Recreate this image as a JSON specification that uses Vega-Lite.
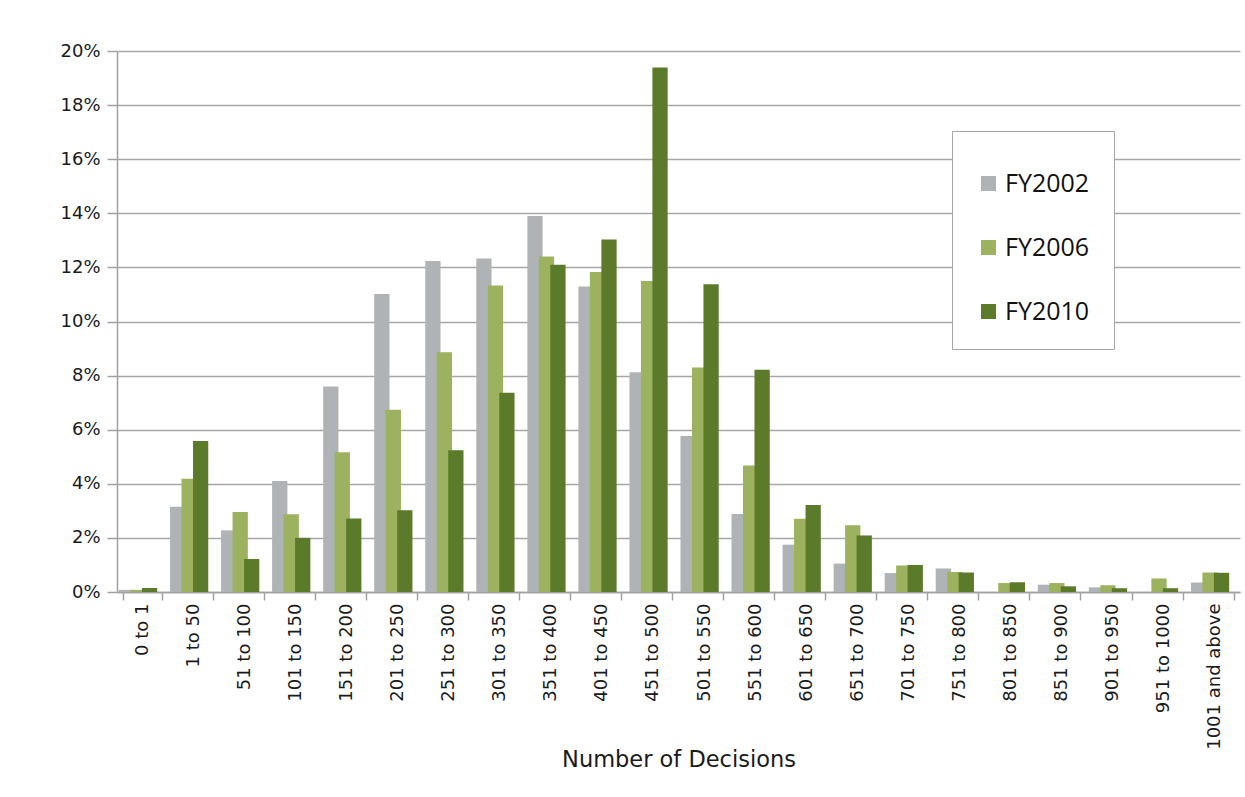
{
  "$schema": "https://vega.github.io/schema/vega-lite/v6.json",
  "width": 1123,
  "height": 541,
  "autosize": "none",
  "padding": {"left": 117, "top": 51, "right": 5, "bottom": 205},
  "background": "white",
  "config": {"view": {"stroke": null}, "font": "DejaVu Sans"},
  "data": {"values": [
    {"bin": "0 to 1", "series": "FY2002", "pct": 0.08},
    {"bin": "0 to 1", "series": "FY2006", "pct": 0.08},
    {"bin": "0 to 1", "series": "FY2010", "pct": 0.15},
    {"bin": "1 to 50", "series": "FY2002", "pct": 3.15},
    {"bin": "1 to 50", "series": "FY2006", "pct": 4.19},
    {"bin": "1 to 50", "series": "FY2010", "pct": 5.58},
    {"bin": "51 to 100", "series": "FY2002", "pct": 2.28},
    {"bin": "51 to 100", "series": "FY2006", "pct": 2.96},
    {"bin": "51 to 100", "series": "FY2010", "pct": 1.22},
    {"bin": "101 to 150", "series": "FY2002", "pct": 4.1},
    {"bin": "101 to 150", "series": "FY2006", "pct": 2.87},
    {"bin": "101 to 150", "series": "FY2010", "pct": 2.0},
    {"bin": "151 to 200", "series": "FY2002", "pct": 7.6},
    {"bin": "151 to 200", "series": "FY2006", "pct": 5.17},
    {"bin": "151 to 200", "series": "FY2010", "pct": 2.72},
    {"bin": "201 to 250", "series": "FY2002", "pct": 11.02},
    {"bin": "201 to 250", "series": "FY2006", "pct": 6.74},
    {"bin": "201 to 250", "series": "FY2010", "pct": 3.02},
    {"bin": "251 to 300", "series": "FY2002", "pct": 12.24},
    {"bin": "251 to 300", "series": "FY2006", "pct": 8.86},
    {"bin": "251 to 300", "series": "FY2010", "pct": 5.24},
    {"bin": "301 to 350", "series": "FY2002", "pct": 12.33},
    {"bin": "301 to 350", "series": "FY2006", "pct": 11.33},
    {"bin": "301 to 350", "series": "FY2010", "pct": 7.37},
    {"bin": "351 to 400", "series": "FY2002", "pct": 13.9},
    {"bin": "351 to 400", "series": "FY2006", "pct": 12.4},
    {"bin": "351 to 400", "series": "FY2010", "pct": 12.1},
    {"bin": "401 to 450", "series": "FY2002", "pct": 11.29},
    {"bin": "401 to 450", "series": "FY2006", "pct": 11.83},
    {"bin": "401 to 450", "series": "FY2010", "pct": 13.03},
    {"bin": "451 to 500", "series": "FY2002", "pct": 8.12},
    {"bin": "451 to 500", "series": "FY2006", "pct": 11.5},
    {"bin": "451 to 500", "series": "FY2010", "pct": 19.39},
    {"bin": "501 to 550", "series": "FY2002", "pct": 5.77},
    {"bin": "501 to 550", "series": "FY2006", "pct": 8.3},
    {"bin": "501 to 550", "series": "FY2010", "pct": 11.38},
    {"bin": "551 to 600", "series": "FY2002", "pct": 2.88},
    {"bin": "551 to 600", "series": "FY2006", "pct": 4.68},
    {"bin": "551 to 600", "series": "FY2010", "pct": 8.22},
    {"bin": "601 to 650", "series": "FY2002", "pct": 1.75},
    {"bin": "601 to 650", "series": "FY2006", "pct": 2.71},
    {"bin": "601 to 650", "series": "FY2010", "pct": 3.22},
    {"bin": "651 to 700", "series": "FY2002", "pct": 1.05},
    {"bin": "651 to 700", "series": "FY2006", "pct": 2.47},
    {"bin": "651 to 700", "series": "FY2010", "pct": 2.09},
    {"bin": "701 to 750", "series": "FY2002", "pct": 0.7},
    {"bin": "701 to 750", "series": "FY2006", "pct": 0.98},
    {"bin": "701 to 750", "series": "FY2010", "pct": 1.0},
    {"bin": "751 to 800", "series": "FY2002", "pct": 0.87},
    {"bin": "751 to 800", "series": "FY2006", "pct": 0.74},
    {"bin": "751 to 800", "series": "FY2010", "pct": 0.72},
    {"bin": "801 to 850", "series": "FY2002", "pct": 0},
    {"bin": "801 to 850", "series": "FY2006", "pct": 0.33},
    {"bin": "801 to 850", "series": "FY2010", "pct": 0.36},
    {"bin": "851 to 900", "series": "FY2002", "pct": 0.27},
    {"bin": "851 to 900", "series": "FY2006", "pct": 0.33},
    {"bin": "851 to 900", "series": "FY2010", "pct": 0.21},
    {"bin": "901 to 950", "series": "FY2002", "pct": 0.17},
    {"bin": "901 to 950", "series": "FY2006", "pct": 0.25},
    {"bin": "901 to 950", "series": "FY2010", "pct": 0.14},
    {"bin": "951 to 1000", "series": "FY2002", "pct": 0},
    {"bin": "951 to 1000", "series": "FY2006", "pct": 0.5},
    {"bin": "951 to 1000", "series": "FY2010", "pct": 0.14},
    {"bin": "1001 and above", "series": "FY2002", "pct": 0.35},
    {"bin": "1001 and above", "series": "FY2006", "pct": 0.72},
    {"bin": "1001 and above", "series": "FY2010", "pct": 0.71}
  ]},
  "mark": {"type": "bar", "width": {"band": 1.33}},
  "encoding": {
    "x": {
      "field": "bin", "type": "nominal", "sort": null,
      "scale": {"paddingInner": 0.25, "paddingOuter": 0.125},
      "axis": {
        "title": "Number of Decisions", "labelAngle": -90, "tickBand": "extent",
        "labelFontSize": 18, "labelColor": "#1A1A1A", "labelPadding": 3,
        "titleFontSize": 22.5, "titleFontWeight": "normal", "titleColor": "#1A1A1A",
        "titleY": 174, "titleBaseline": "alphabetic",
        "domainColor": "#A0A0A0", "domainWidth": 1.5, "tickColor": "#A0A0A0", "tickWidth": 1.5, "tickSize": 8, "grid": false
      }
    },
    "xOffset": {"field": "series", "type": "nominal", "scale": {"paddingInner": 0, "paddingOuter": 0.167}},
    "y": {
      "field": "pct", "type": "quantitative", "scale": {"domain": [0, 20], "nice": false},
      "axis": {
        "title": null, "values": [0, 2, 4, 6, 8, 10, 12, 14, 16, 18, 20],
        "labelExpr": "datum.value + '%'", "labelFontSize": 18, "labelColor": "#1A1A1A", "labelPadding": 7,
        "tickSize": 10, "tickColor": "#A0A0A0", "tickWidth": 1.5, "domainColor": "#A0A0A0", "domainWidth": 1.5,
        "gridColor": "#A6A6A6", "gridWidth": 1.5
      }
    },
    "color": {
      "field": "series", "type": "nominal",
      "scale": {"domain": ["FY2002", "FY2006", "FY2010"], "range": ["#B0B3B6", "#9CB25E", "#5B7B2B"]},
      "legend": {
        "orient": "none", "legendX": 835, "legendY": 80, "direction": "vertical",
        "title": " ", "titleFontSize": 11, "titlePadding": 5,
        "padding": 24, "strokeColor": "#A6A6A6", "fillColor": "white",
        "symbolType": "square", "symbolSize": 225, "symbolStrokeWidth": 0,
        "labelFontSize": 25, "labelFont": "Open Sans", "labelColor": "#111111", "labelOffset": 4,
        "rowPadding": 38
      }
    }
  }
}
